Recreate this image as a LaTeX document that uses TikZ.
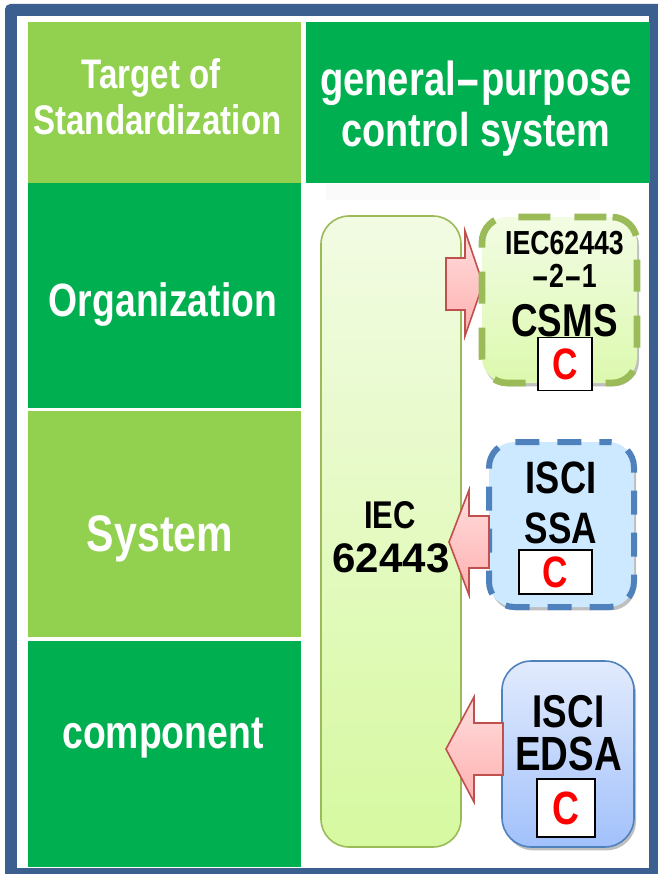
\documentclass[tikz,border=0pt]{standalone}
\usepackage{fontspec}
\setmainfont{Liberation Sans}[FakeStretch=0.8]
\usetikzlibrary{shadows,positioning}
\definecolor{frameblue}{HTML}{3B5F8F}
\definecolor{lightgreen}{HTML}{92D050}
\definecolor{deepgreen}{HTML}{00B050}
\definecolor{edgegreen}{HTML}{9BBB59}
\definecolor{edgeblue}{HTML}{4F81BD}
\definecolor{edgered}{HTML}{C0504D}
\definecolor{ssafill}{HTML}{CCE9FF}
\definecolor{edsatop}{HTML}{E2EBFD}
\definecolor{edsabot}{HTML}{A2C1FB}
\definecolor{iectop}{HTML}{F2FBE3}
\definecolor{iecbot}{HTML}{D6F9A0}
\definecolor{csmstop}{HTML}{F2FCE4}
\definecolor{csmsbot}{HTML}{DCF9AE}
\definecolor{redtop}{HTML}{FFDDDD}
\definecolor{redbot}{HTML}{FFB0B0}
\def\px{0.75pt}
\newcommand{\widehy}{\scalebox{2}[1]{-}}
\tikzset{
  x=0.75pt,y=-0.75pt,
  cell/.style={rectangle,inner sep=0,outer sep=0,draw=none},
  lightcell/.style={cell,fill=lightgreen},
  deepcell/.style={cell,fill=deepgreen},
  whitetext/.style={anchor=base,text=white,inner sep=0,outer sep=0},
  blacktext/.style={anchor=base,text=black,inner sep=0,outer sep=0},
  softshadow/.style={drop shadow={shadow xshift=1.5pt,shadow yshift=-2.5pt,fill=black,opacity=.25}},
  iecbox/.style={rectangle,rounded corners=21pt,inner sep=0,outer sep=0,draw=edgegreen,line width=1.2pt,top color=iectop,bottom color=iecbot},
  csmsbox/.style={rectangle,rounded corners=19pt,inner sep=0,outer sep=0,draw=edgegreen,line width=5pt,dash pattern=on 24pt off 18pt,dash phase=38pt,top color=csmstop,bottom color=csmsbot,softshadow},
  ssabox/.style={rectangle,rounded corners=19pt,inner sep=0,outer sep=0,draw=edgeblue,line width=4.5pt,dash pattern=on 18pt off 13.5pt,dash phase=11pt,fill=ssafill,softshadow},
  edsabox/.style={rectangle,rounded corners=22pt,inner sep=0,outer sep=0,draw=edgeblue,line width=1.2pt,top color=edsatop,bottom color=edsabot,softshadow},
  cbox/.style={rectangle,fill=white,draw=black,line width=1pt,inner sep=0,outer sep=0,text=red,font=\bfseries\fontsize{33pt}{33pt}\selectfont},
  blockarrow/.style={draw=edgered,line width=1.2pt,line join=miter,top color=redtop,bottom color=redbot},
}
\begin{document}
\begin{tikzpicture}
\useasboundingbox (0,0) rectangle (657,874);
\fill[white] (0,0) rectangle (657,874);
% frame
\fill[frameblue,rounded corners=4pt] (5,4) -- (670,4) -- (670,890) -- (5,890) -- cycle;
\fill[white] (17,16) rectangle (649,868);
% cells
\node[lightcell,minimum width=273*\px,minimum height=161*\px] (target) at (164.5,102.5) {};
\node[deepcell,minimum width=344*\px,minimum height=161*\px] (general) at (478,102.5) {};
\node[deepcell,minimum width=273*\px,minimum height=225*\px] (org) at (164.5,295.5) {};
\node[lightcell,minimum width=273*\px,minimum height=226*\px] (sys) at (164.5,524) {};
\node[deepcell,minimum width=273*\px,minimum height=226*\px] (comp) at (164.5,754) {};
\fill[black,opacity=.018] (326,184) rectangle (600,200);
% cell labels
\node[whitetext,font=\bfseries\fontsize{31pt}{31pt}\selectfont] (t1) at (151,89) {Target of};
\node[whitetext,font=\bfseries\fontsize{31pt}{31pt}\selectfont] (t2) at (157.5,134) {Standardization};
\node[whitetext,font=\bfseries\fontsize{35.8pt}{36pt}\selectfont] (g1) at (476,95) {general\widehy purpose};
\node[whitetext,font=\bfseries\fontsize{35.5pt}{36pt}\selectfont] (g2) at (476,146) {control system};
\node[whitetext,font=\bfseries\fontsize{35pt}{35pt}\selectfont] (o1) at (163,316) {Organization};
\node[whitetext,font=\bfseries\fontsize{38.5pt}{38.5pt}\selectfont] (s1) at (160,551) {System};
\node[whitetext,font=\bfseries\fontsize{35pt}{35pt}\selectfont] (c1) at (163,748) {component};
% IEC column
\node[iecbox,minimum width=140*\px,minimum height=631*\px] (iec) at (391,531.5) {};
\node[blacktext,font=\bfseries\fontsize{29pt}{29pt}\selectfont] (iec1) at (390,528) {IEC};
\node[blacktext,font=\bfseries\fontsize{31pt}{31pt}\selectfont] (iec2) at (391,572) {\scalebox{1.27}[1]{62443}};
% arrow 1 (below the dashed box)
\draw[blockarrow] (446,258) -- (465,258) -- (465,231) -- (483,284) -- (465,336) -- (465,310) -- (446,310) -- cycle;
% CSMS
\node[csmsbox,minimum width=155*\px,minimum height=166*\px] (csms) at (559.5,300) {};
\node[blacktext,font=\bfseries\fontsize{25pt}{25pt}\selectfont] (c2) at (564.5,254) {IEC62443};
\node[blacktext,font=\bfseries\fontsize{25pt}{25pt}\selectfont] (c3) at (564,287) {\widehy 2\widehy 1};
\node[blacktext,font=\bfseries\fontsize{34.5pt}{34.5pt}\selectfont] (c4) at (564.5,336) {CSMS};
\node[cbox,minimum width=54*\px,minimum height=53*\px] (cc1) at (565,364) {\raisebox{-2pt}{C}};
% SSA
\node[ssabox,minimum width=145*\px,minimum height=165*\px] (ssa) at (561.5,524.5) {};
\node[blacktext,font=\bfseries\fontsize{34pt}{34pt}\selectfont] (s2) at (561,493) {ISCI};
\node[blacktext,font=\bfseries\fontsize{33pt}{33pt}\selectfont] (s3) at (561,543) {SSA};
\node[cbox,minimum width=73*\px,minimum height=44*\px] (cc2) at (555.5,572) {C};
\draw[blockarrow] (489,516) -- (469,516) -- (469,490) -- (449,542) -- (469,595) -- (469,568) -- (489,568) -- cycle;
% EDSA
\node[edsabox,minimum width=132*\px,minimum height=186*\px] (edsa) at (568,754) {};
\node[blacktext,font=\bfseries\fontsize{34.5pt}{34.5pt}\selectfont] (e1) at (568.5,727) {ISCI};
\node[blacktext,font=\bfseries\fontsize{36pt}{36pt}\selectfont] (e2) at (568.5,770) {EDSA};
\node[cbox,minimum width=58*\px,minimum height=58*\px,font=\bfseries\fontsize{35pt}{35pt}\selectfont] (cc3) at (566,808) {C};
\draw[blockarrow] (503,723) -- (474,723) -- (474,697) -- (446,749) -- (474,802) -- (474,775) -- (503,775) -- cycle;
\end{tikzpicture}
\end{document}
